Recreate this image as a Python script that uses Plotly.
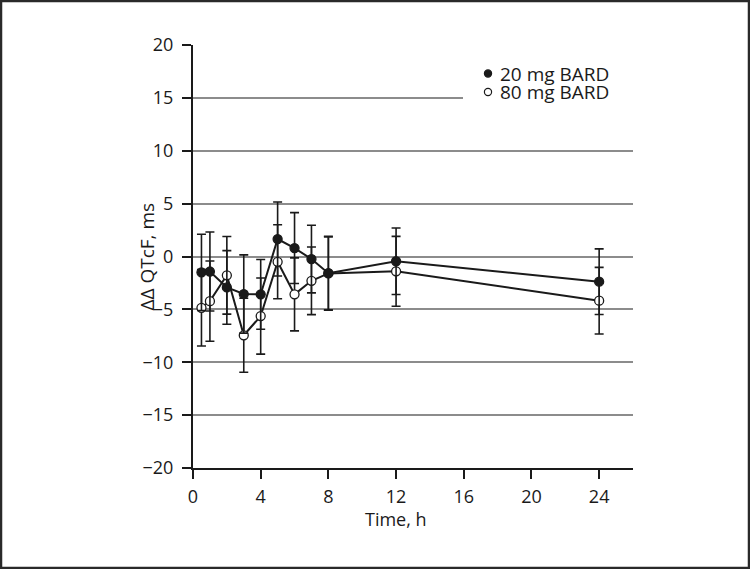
import plotly.graph_objects as go

# ---- data ----
time_h = [0.5, 1, 2, 3, 4, 5, 6, 7, 8, 12, 24]
bard20 = [-1.5, -1.42, -2.92, -3.55, -3.58, 1.65, 0.8, -0.24, -1.58, -0.45, -2.38]
bard20_err = [3.6, 3.74, 3.48, 3.7, 3.3, 3.5, 3.35, 3.2, 3.5, 3.15, 3.1]
bard80 = [-4.85, -4.22, -1.78, -7.45, -5.63, -0.5, -3.58, -2.3, -1.6, -1.4, -4.18]
bard80_err = [3.62, 3.8, 3.67, 3.5, 3.6, 3.5, 3.45, 3.2, 3.45, 3.3, 3.15]
series_names = ["20 mg BARD", "80 mg BARD"]
x_ticks = [0, 4, 8, 12, 16, 20, 24]
y_ticks = [-20, -15, -10, -5, 0, 5, 10, 15, 20]

W, H = 750, 569
ML, MR, MT, MB = 193, 117, 45, 101
PW, PH = W - ML - MR, H - MT - MB

FONT = "Open Sans"
FS = 18
INK = "#1a1a1a"

fig = go.Figure()

fig.add_trace(go.Scatter(
    x=time_h, y=bard80, mode="lines+markers", name=series_names[1],
    line=dict(color=INK, width=2),
    marker=dict(symbol="circle", size=9, color="white", line=dict(color=INK, width=1.3)),
    error_y=dict(type="data", array=bard80_err, visible=True, color=INK, thickness=1.6, width=4.5),
    showlegend=False,
))
fig.add_trace(go.Scatter(
    x=time_h, y=bard20, mode="lines+markers", name=series_names[0],
    line=dict(color=INK, width=2),
    marker=dict(symbol="circle", size=9, color=INK, line=dict(color=INK, width=1.3)),
    error_y=dict(type="data", array=bard20_err, visible=True, color=INK, thickness=1.6, width=4.5),
    showlegend=False,
))

def px2x(px):
    return (px - ML) / PW

def px2y(py):
    return (H - MB - py) / PH

shapes = []
# white patch behind legend (cuts gridline at 15)
shapes.append(dict(type="rect", xref="paper", yref="paper",
                   x0=px2x(463), x1=px2x(640), y0=px2y(106), y1=px2y(60),
                   fillcolor="white", line=dict(width=0), layer="above"))
# legend markers
for py, fill in [(73.5, INK), (92, "white")]:
    cx, cy = px2x(488), px2y(py)
    shapes.append(dict(type="circle", xref="paper", yref="paper",
                       xsizemode="pixel", ysizemode="pixel",
                       xanchor=cx, yanchor=cy, x0=-3.6, x1=3.6, y0=-3.6, y1=3.6,
                       fillcolor=fill, line=dict(color=INK, width=1.2), layer="above"))
# outer frame
shapes.append(dict(type="rect", xref="paper", yref="paper",
                   x0=px2x(1), x1=px2x(W - 1), y0=px2y(H - 1), y1=px2y(1),
                   line=dict(color="#2a2a2a", width=2.5), fillcolor="rgba(0,0,0,0)", layer="above"))

annotations = [
    dict(text=series_names[0], xref="paper", yref="paper", x=px2x(498), y=px2y(73.5),
         xanchor="left", yanchor="middle", showarrow=False,
         font=dict(family=FONT, size=19, color=INK)),
    dict(text=series_names[1], xref="paper", yref="paper", x=px2x(498), y=px2y(92),
         xanchor="left", yanchor="middle", showarrow=False,
         font=dict(family=FONT, size=19, color=INK)),
    dict(text="Time, h", xref="x", yref="paper", x=12, y=px2y(519),
         xanchor="center", yanchor="middle", showarrow=False,
         font=dict(family=FONT, size=FS, color=INK)),
    dict(text="ΔΔ QTcF, ms", xref="paper", yref="paper", x=px2x(146), y=0.5,
         xanchor="center", yanchor="middle", showarrow=False, textangle=-90,
         font=dict(family=FONT, size=19, color=INK)),
]

fig.update_layout(
    width=W, height=H,
    margin=dict(l=ML, r=MR, t=MT, b=MB, pad=0),
    paper_bgcolor="white", plot_bgcolor="white",
    font=dict(family=FONT, size=FS, color=INK),
    shapes=shapes, annotations=annotations,
    showlegend=False,
    xaxis=dict(range=[0, 26], tickvals=x_ticks, ticks="outside", ticklen=9, tickwidth=1.5,
               tickcolor=INK, showline=True, linecolor=INK, linewidth=2,
               showgrid=False, zeroline=False, tickfont=dict(size=FS), ticklabelstandoff=2),
    yaxis=dict(range=[-20, 20], tickvals=y_ticks, ticks="outside", ticklen=9, tickwidth=1.5,
               tickcolor=INK, showline=True, linecolor=INK, linewidth=2,
               showgrid=True, gridcolor="#8c8c8c", gridwidth=1.5, zeroline=False,
               tickfont=dict(size=FS), ticklabelstandoff=5),
)

fig.write_html("out.html", config={"displayModeBar": False},
               post_script="document.body.style.margin='0px';document.body.style.overflow='hidden';")
